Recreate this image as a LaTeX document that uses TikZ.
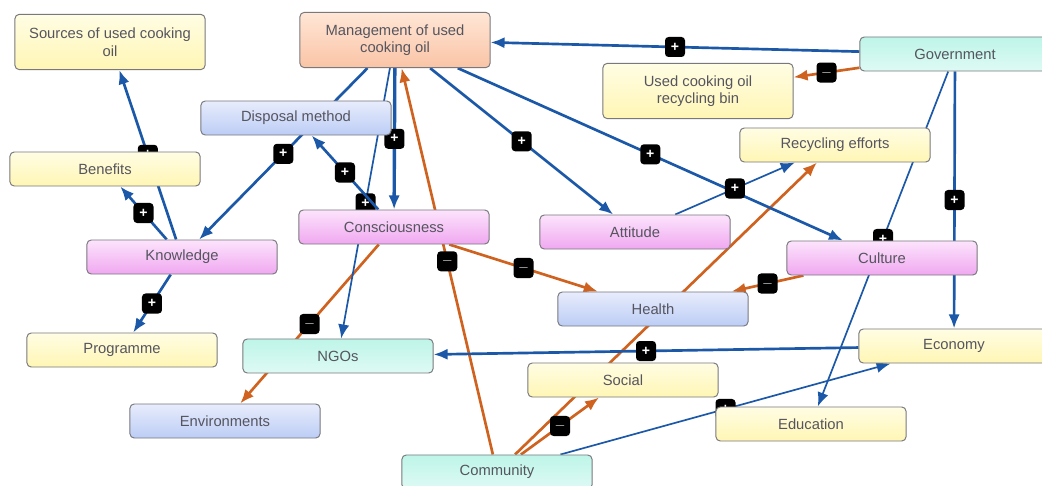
\documentclass[tikz,border=0pt]{standalone}
\usepackage{fontspec}
\setmainfont{Liberation Sans}
\usetikzlibrary{arrows.meta, backgrounds}
\definecolor{cardline}{RGB}{120,120,125}
\definecolor{cardtext}{RGB}{85,85,95}
\definecolor{yellowtop}{RGB}{255,253,228}
\definecolor{yellowbot}{RGB}{255,246,180}
\definecolor{pinktop}{RGB}{252,228,252}
\definecolor{pinkbot}{RGB}{240,168,240}
\definecolor{bluetop}{RGB}{232,237,252}
\definecolor{bluebot}{RGB}{188,204,245}
\definecolor{tealtop}{RGB}{190,245,232}
\definecolor{tealbot}{RGB}{222,250,244}
\definecolor{peachtop}{RGB}{255,230,214}
\definecolor{peachbot}{RGB}{250,196,166}
\definecolor{linkblue}{RGB}{28,88,168}
\definecolor{linkorange}{RGB}{208,98,32}
\tikzset{
  card/.style={
    draw=cardline, rounded corners=3pt, line width=0.7pt,
    text=cardtext, font=\fontsize{10.5}{12.5}\selectfont,
    minimum width=4.75cm, minimum height=0.85cm, align=center, inner sep=3pt
  },
  tall/.style={minimum height=1.38cm},
  cardyellow/.style={card, top color=yellowtop, bottom color=yellowbot},
  cardpink/.style={card, top color=pinktop, bottom color=pinkbot},
  cardblue/.style={card, top color=bluetop, bottom color=bluebot},
  cardteal/.style={card, top color=tealtop, bottom color=tealbot},
  cardpeach/.style={card, top color=peachtop, bottom color=peachbot},
  link/.style={-{Latex[length=10pt,width=8pt]}, line width=1.9pt},
  poslink/.style={link, linkblue},
  neglink/.style={link, linkorange},
  thinlink/.style={line width=1.2pt},
  heavy/.style={line width=2.4pt},
  sign/.style={
    fill=black, text=white, rounded corners=2.5pt, minimum size=0.5cm,
    inner sep=0pt, font=\bfseries\fontsize{10}{10}\selectfont
  }
}

\begin{document}
\begin{tikzpicture}[x=0.025cm, y=-0.025cm]
  \useasboundingbox (0,0) rectangle (1042,486);

  \node[cardyellow, tall] (src) at (110,42) {Sources of used cooking\\oil};
  \node[cardpeach, tall] (mgmt) at (395,40) {Management of used\\cooking oil};
  \node[cardteal] (gov) at (955,54) {Government};
  \node[cardyellow, tall] (bin) at (698,91) {Used cooking oil\\recycling bin};
  \node[cardblue] (disp) at (296,118) {Disposal method};
  \node[cardyellow] (recyc) at (835,145) {Recycling efforts};
  \node[cardyellow] (ben) at (105,169) {Benefits};
  \node[cardpink] (cons) at (394,227) {Consciousness};
  \node[cardpink] (att) at (635,232) {Attitude};
  \node[cardpink] (know) at (182,257) {Knowledge};
  \node[cardpink] (cult) at (882,258) {Culture};
  \node[cardblue] (health) at (653,309) {Health};
  \node[cardyellow] (prog) at (122,350) {Programme};
  \node[cardteal] (ngo) at (338,356) {NGOs};
  \node[cardyellow] (econ) at (954,346) {Economy};
  \node[cardyellow] (social) at (623,380) {Social};
  \node[cardblue] (env) at (225,421) {Environments};
  \node[cardyellow] (edu) at (811,424) {Education};
  \node[cardteal] (comm) at (497,472) {Community};

  \begin{scope}[on background layer]
    \draw[neglink] (comm) -- (recyc);
    \draw[neglink] (comm) -- node[sign]{$-$} (mgmt);
    \draw[neglink] (comm) -- node[sign]{$-$} (social);
    \draw[neglink] (cons) -- node[sign]{$-$} (env);
    \draw[neglink] (cons) -- node[sign]{$-$} (health);
    \draw[neglink] (cult) -- node[sign]{$-$} (health);
    \draw[neglink] (gov) -- node[sign]{$-$} (bin);
    \draw[poslink] (gov) -- node[sign]{+} (mgmt);
    \draw[poslink] (gov) -- node[sign]{+} (econ);
    \draw[poslink, thinlink] (gov) -- node[sign]{+} (edu);
    \draw[poslink] (mgmt) -- node[sign]{+} (know);
    \draw[poslink, thinlink] (mgmt) -- node[sign]{+} (ngo);
    \draw[poslink, heavy] (mgmt) -- node[sign]{+} (cons);
    \draw[poslink] (mgmt) -- node[sign]{+} (att);
    \draw[poslink] (mgmt) -- node[sign]{+} (cult);
    \draw[poslink] (cons) -- node[sign]{+} (disp);
    \draw[poslink, thinlink] (att) -- node[sign]{+} (recyc);
    \draw[poslink] (know) -- node[sign]{+} (src);
    \draw[poslink] (know) -- node[sign]{+} (ben);
    \draw[poslink] (know) -- node[sign]{+} (prog);
    \draw[poslink] (econ) -- node[sign]{+} (ngo);
    \draw[poslink, thinlink] (comm) -- node[sign]{+} (econ);
  \end{scope}
\end{tikzpicture}
\end{document}
